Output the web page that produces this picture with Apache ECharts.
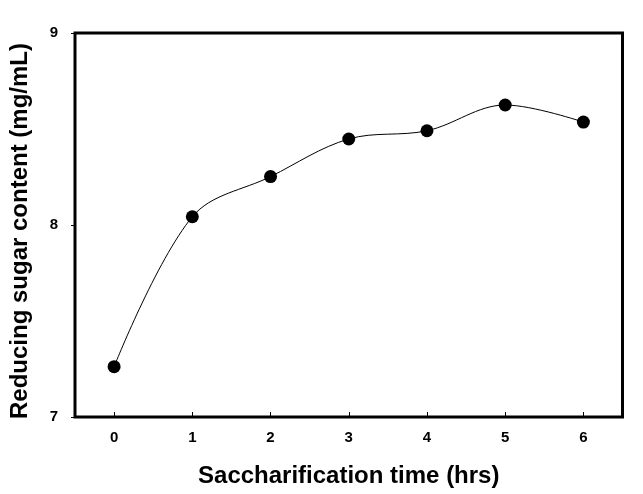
<!DOCTYPE html>
<html><head><meta charset="utf-8">
<script src="https://cdn.jsdelivr.net/npm/echarts@6/dist/echarts.min.js"></script>
<style>html,body{margin:0;padding:0;background:#fff}#c{width:643px;height:494px}</style>
</head><body><div id="c"></div>
<script>
const categories = ['0','1','2','3','4','5','6'];
const sugarValues = [7.262, 8.043, 8.252, 8.448, 8.491, 8.625, 8.536];
const yTicks = {min: 7, max: 9, interval: 1};
const xTitle = 'Saccharification time (hrs)';
const yTitle = 'Reducing sugar content (mg/mL)';

const FONT = '"Liberation Sans", Arial, sans-serif';
const chart = echarts.init(document.getElementById('c'));
chart.setOption({
  animation: false,
  backgroundColor: '#fff',
  grid: {left: 73, right: 20.5, top: 33, bottom: 77, show: true, borderColor: '#000', borderWidth: 3, backgroundColor: 'transparent'},
  xAxis: {
    type: 'category', data: categories, boundaryGap: true,
    axisLine: {show: false},
    axisTick: {show: true, inside: true, alignWithLabel: true, length: 5, lineStyle: {color: '#000', width: 1}},
    axisLabel: {color: '#000', fontFamily: FONT, fontWeight: 'bold', fontSize: 15, margin: 13},
    splitLine: {show: false},
    name: xTitle, nameLocation: 'middle', nameGap: 47,
    nameTextStyle: {color: '#000', fontFamily: FONT, fontWeight: 'bold', fontSize: 24}
  },
  yAxis: {
    type: 'value', min: yTicks.min, max: yTicks.max, interval: yTicks.interval,
    axisLine: {show: false},
    axisTick: {show: true, length: 4, lineStyle: {color: '#000', width: 1}},
    axisLabel: {color: '#000', fontFamily: FONT, fontWeight: 'bold', fontSize: 15, margin: 17},
    splitLine: {show: false},
    name: yTitle, nameLocation: 'middle', nameGap: 43,
    nameTextStyle: {color: '#000', fontFamily: FONT, fontWeight: 'bold', fontSize: 24, padding: [0, 12, 0, 0]}
  },
  series: [{
    type: 'line', data: sugarValues, smooth: 0.35,
    symbol: 'circle', symbolSize: 13,
    lineStyle: {color: '#000', width: 1},
    itemStyle: {color: '#000'}
  }]
});
</script></body></html>
